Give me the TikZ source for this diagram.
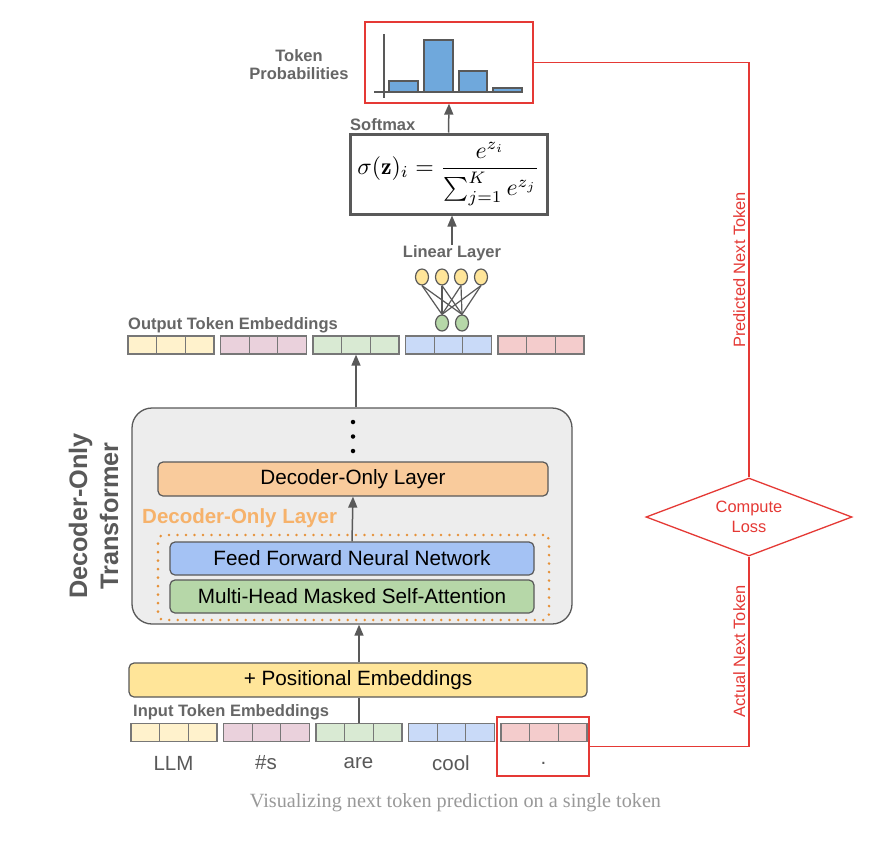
\documentclass[tikz,border=0pt]{standalone}
\usepackage{fontspec}
\usepackage{amsmath}
\usepackage{graphicx}
\setsansfont{Liberation Sans}
\newfontfamily\capfont{Liberation Serif}
\usetikzlibrary{shapes.geometric,arrows.meta}
\definecolor{linegray}{HTML}{595959}
\definecolor{labelgray}{HTML}{666666}
\definecolor{cellgray}{HTML}{777777}
\definecolor{lossred}{HTML}{E53935}
\definecolor{barblue}{HTML}{6FA8DC}
\definecolor{cyel}{HTML}{FFF2CC}
\definecolor{cpur}{HTML}{EAD1DC}
\definecolor{cgrn}{HTML}{D9EAD3}
\definecolor{cblu}{HTML}{C9DAF8}
\definecolor{cred}{HTML}{F4CCCC}
\definecolor{decorange}{HTML}{F9CB9C}
\definecolor{lblorange}{HTML}{F6B26B}
\definecolor{dotorange}{HTML}{E69138}
\definecolor{ffblue}{HTML}{A4C2F4}
\definecolor{mhagreen}{HTML}{B6D7A8}
\definecolor{posyellow}{HTML}{FFE599}

\begin{document}
\begin{tikzpicture}[x=1pt, y=-1pt,
  lbl/.style={font=\sffamily\bfseries\fontsize{16.5}{19}\selectfont, text=labelgray, inner sep=0},
  layer/.style={draw=linegray, line width=1.2pt, rounded corners=5pt, inner sep=0,
    font=\sffamily\fontsize{20.7}{24}\selectfont},
  cell/.style={draw=cellgray, line width=1.3pt, minimum width=28.67, minimum height=18, inner sep=0},
  neuron/.style={ellipse, draw=linegray, line width=1.2pt, minimum width=13, minimum height=16, inner sep=0},
  arr/.style={draw=linegray, line width=1.5pt, -{Triangle[length=11pt,width=9pt]}},
  redline/.style={draw=lossred, line width=1.3pt},
  redlbl/.style={text=lossred, font=\sffamily\fontsize{16.4}{19.5}\selectfont}]
  \fill[white] (0,0) rectangle (881,841);
  \useasboundingbox (0,0) rectangle (881,841);

  \node[draw=lossred, line width=1.3pt, minimum width=168, minimum height=81, inner sep=0] (hist) at (449,62.5) {};
  \draw[linegray, line width=2.5pt] (384,34) -- (384,98);
  \draw[linegray, line width=2.5pt, fill=barblue] (389,92) rectangle (418,81);
  \draw[linegray, line width=2.5pt, fill=barblue] (424,92) rectangle (453,40);
  \draw[linegray, line width=2.5pt, fill=barblue] (459,92) rectangle (487,71);
  \draw[linegray, line width=2.5pt, fill=barblue] (493,92) rectangle (522,88);
  \draw[linegray, line width=2.5pt] (374,92) -- (523,92);
  \node[lbl, align=center, font=\sffamily\bfseries\fontsize{16.5}{18}\selectfont] (prob) at (299,65) {Token\\Probabilities};

  \node[draw=linegray, line width=3pt, minimum width=197, minimum height=80, inner sep=0] (soft) at (448.5,174)
    {\scalebox{2.38}{$\displaystyle \sigma(\mathbf{z})_i = \frac{e^{z_i}}{\sum_{j=1}^{K} e^{z_j}}$}};
  \node[lbl, anchor=west] (softlbl) at (350,125) {Softmax};
  \draw[arr] (soft.north) -- (hist.south);

  \node[lbl] (lin) at (452,253) {Linear Layer};
  \draw[arr] (lin.north) -- (lin.north |- soft.south);
  \node[neuron, fill=posyellow] (y1) at (422,277) {};
  \node[neuron, fill=posyellow] (y2) at (442,277) {};
  \node[neuron, fill=posyellow] (y3) at (461,277) {};
  \node[neuron, fill=posyellow] (y4) at (481,277) {};
  \node[neuron, fill=mhagreen] (g1) at (442,323) {};
  \node[neuron, fill=mhagreen] (g2) at (462,323) {};
  \foreach \a in {y1,y2,y3,y4}
    \foreach \b in {g1,g2}
      \draw[linegray, line width=1.2pt] (\a.south) -- (\b.north);

  \node[lbl, anchor=west] (outlbl) at (128,325) {Output Token Embeddings};
  \node[lbl, anchor=west] (inlbl) at (133,712) {Input Token Embeddings};
  \foreach \c [count=\i] in {cyel,cpur,cgrn,cblu,cred}
    \foreach \j in {1,2,3} {
      \node[cell, fill=\c] (o\i\j) at ({128+92.5*(\i-1)+28.67*(\j-0.5)},345) {};
      \node[cell, fill=\c] (i\i\j) at ({131+92.5*(\i-1)+28.67*(\j-0.5)},732.5) {};
    }

  \node[draw=linegray, line width=1.3pt, fill=black!7, rounded corners=20pt, minimum width=440,
    minimum height=216, inner sep=0] (tf) at (352,516) {};
  \draw[arr] (o32.south |- tf.north) -- (o32.south);
  \node[circle, fill=black, inner sep=0, minimum size=4.5] (d1) at (353,422) {};
  \node[circle, fill=black, inner sep=0, minimum size=4.5] (d2) at (353,436.5) {};
  \node[circle, fill=black, inner sep=0, minimum size=4.5] (d3) at (353,451) {};
  \node[layer, fill=decorange, minimum width=390, minimum height=34] (dec) at (353,479) {Decoder-Only Layer};
  \node[lbl, anchor=west, text=lblorange, font=\sffamily\bfseries\fontsize{20.5}{24}\selectfont] (declbl) at (142,518) {Decoder-Only Layer};
  \node[draw=dotorange, line width=2.8pt, line cap=round, dash pattern=on 0pt off 8.5pt, rounded corners=6pt,
    minimum width=391, minimum height=85, inner sep=0] (grp) at (353.5,577.5) {};
  \node[layer, fill=ffblue, minimum width=364, minimum height=33] (ffn) at (352,558.5) {Feed Forward Neural Network};
  \node[layer, fill=mhagreen, minimum width=364, minimum height=33] (mha) at (352,596.5) {Multi-Head Masked Self-Attention};
  \draw[arr] (ffn.north) -- (dec.south);
  \node[rotate=90, align=center, text=linegray, font=\sffamily\bfseries\fontsize{25.3}{31}\selectfont] (tflbl) at (93.5,516)
    {Decoder-Only\\Transformer};

  \node[layer, fill=posyellow, minimum width=458, minimum height=34] (pos) at (358,680) {+ Positional Embeddings};
  \draw[arr] (i32.north |- pos.north) -- (i32.north |- tf.south);
  \draw[linegray, line width=1.5pt] (i32.north) -- (i32.north |- pos.south);

  \node[text=linegray, font=\sffamily\fontsize{20.5}{24}\selectfont] (t1) at (173.5,763) {LLM};
  \node[text=linegray, font=\sffamily\fontsize{20.5}{24}\selectfont] (t2) at (266,763) {\#s};
  \node[text=linegray, font=\sffamily\fontsize{20.5}{24}\selectfont] (t3) at (358.5,763) {are};
  \node[text=linegray, font=\sffamily\fontsize{20.5}{24}\selectfont] (t4) at (451,763) {cool};
  \node[text=linegray, font=\sffamily\fontsize{20.5}{24}\selectfont] (t5) at (543.5,763) {.};
  \node[draw=lossred, line width=1.3pt, minimum width=92, minimum height=59, inner sep=0] (act) at (543,746.5) {};

  \node[diamond, draw=lossred, line width=1.3pt, aspect=2.64, minimum width=206, minimum height=78,
    inner sep=0, redlbl, align=center] (loss) at (749,517) {Compute\\Loss};
  \draw[redline] (hist.east) -- (hist.east -| loss.north) -- (loss.north)
    node[pos=0.5, rotate=90, anchor=south, redlbl, inner sep=3pt] {Predicted Next Token};
  \draw[redline] (act.east) -- (act.east -| loss.south) -- (loss.south)
    node[pos=0.5, rotate=90, anchor=south, redlbl, inner sep=3pt] {Actual Next Token};

  \node[text=black!40, font=\capfont\fontsize{20.2}{24}\selectfont] (cap) at (455.5,803)
    {Visualizing next token prediction on a single token};
\end{tikzpicture}
\end{document}
